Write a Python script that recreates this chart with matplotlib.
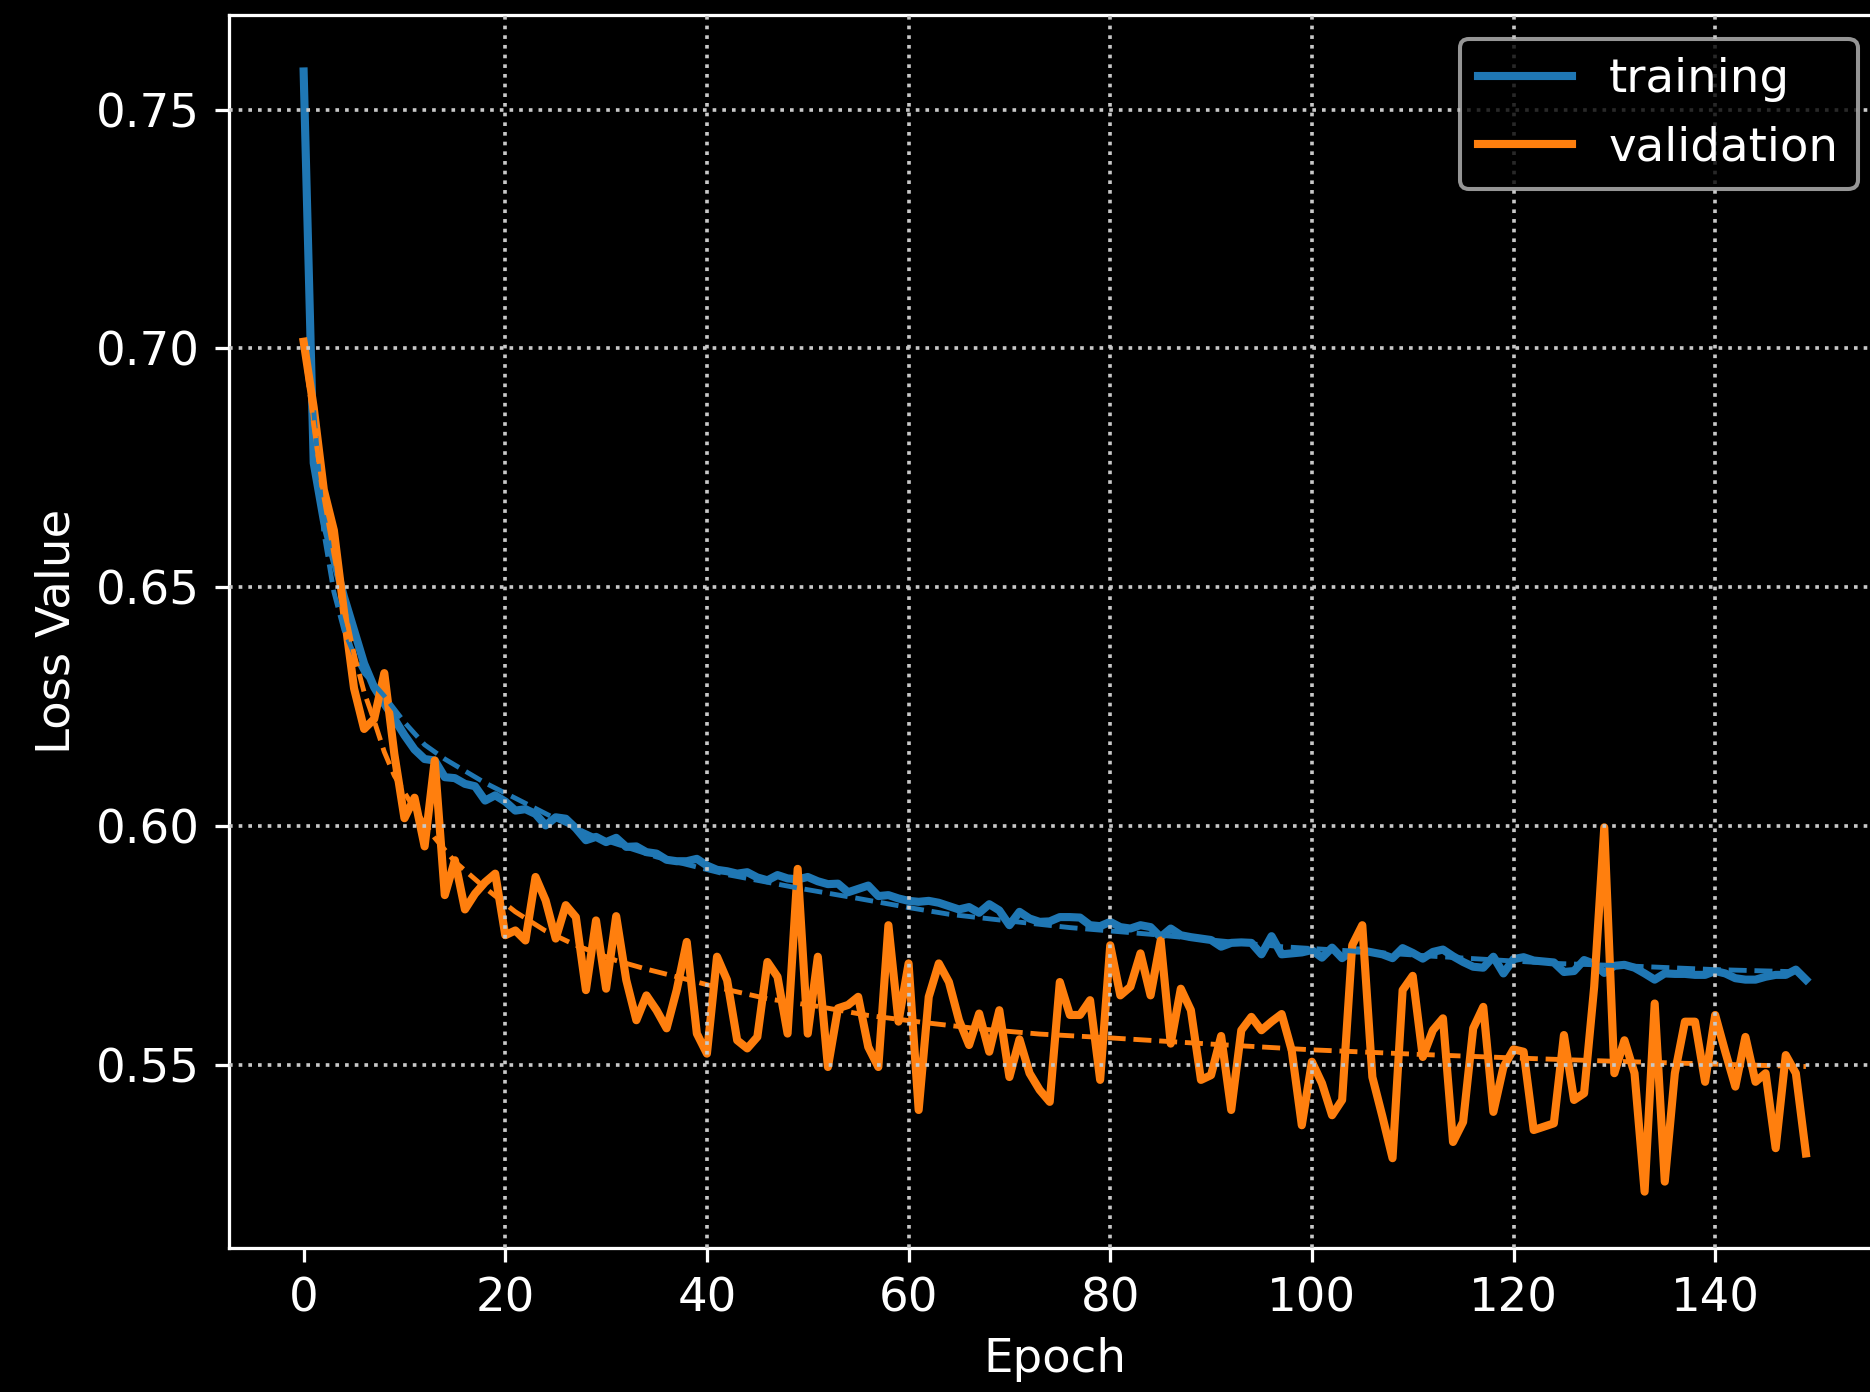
import matplotlib
matplotlib.use("Agg")
import matplotlib.pyplot as plt

# loss values
training = [
    0.758, 0.676, 0.664, 0.656, 0.648, 0.641, 0.634, 0.629, 0.6256, 0.6224,
    0.6190, 0.6160, 0.6140, 0.6137, 0.6102, 0.6100, 0.6088, 0.6083, 0.6053, 0.6064,
    0.6051, 0.6032, 0.6035, 0.6025, 0.6001, 0.6018, 0.6015, 0.5995, 0.5970, 0.5977,
    0.5966, 0.5975, 0.5956, 0.5957, 0.5945, 0.5942, 0.5929, 0.5926, 0.5926, 0.5931,
    0.5917, 0.5908, 0.5905, 0.5900, 0.5903, 0.5892, 0.5886, 0.5897, 0.5890, 0.5888,
    0.5893, 0.5884, 0.5878, 0.5879, 0.5861, 0.5868, 0.5875, 0.5853, 0.5855, 0.5848,
    0.5843, 0.5841, 0.5843, 0.5839, 0.5832, 0.5825, 0.5830, 0.5818, 0.5836, 0.5823,
    0.5792, 0.5820, 0.5806, 0.5799, 0.5800, 0.5809, 0.5809, 0.5808, 0.5792, 0.5790,
    0.5799, 0.5788, 0.5785, 0.5792, 0.5788, 0.5767, 0.5785, 0.5771, 0.5767, 0.5764,
    0.5761, 0.5747, 0.5755, 0.5756, 0.5755, 0.5731, 0.5769, 0.5731, 0.5733, 0.5735,
    0.5740, 0.5724, 0.5745, 0.5723, 0.5739, 0.5739, 0.5735, 0.5731, 0.5723, 0.5744,
    0.5734, 0.5722, 0.5736, 0.5741, 0.5727, 0.5715, 0.5705, 0.5703, 0.5726, 0.5691,
    0.5721, 0.5725, 0.5718, 0.5716, 0.5714, 0.5694, 0.5696, 0.5719, 0.5711, 0.5692,
    0.5707, 0.5709, 0.5703, 0.5691, 0.5678, 0.5691, 0.5690, 0.5690, 0.5688, 0.5688,
    0.5696, 0.5691, 0.5681, 0.5678, 0.5678, 0.5684, 0.5688, 0.5688, 0.5699, 0.5678,
]
validation = [
    0.7014, 0.6876, 0.6704, 0.6619, 0.6449, 0.6288, 0.6203, 0.6224, 0.6320, 0.6150,
    0.6016, 0.6059, 0.5957, 0.6137, 0.5855, 0.5928, 0.5825, 0.5858, 0.5882, 0.5900,
    0.5771, 0.5781, 0.5760, 0.5893, 0.5844, 0.5764, 0.5834, 0.5809, 0.5656, 0.5802,
    0.5659, 0.5811, 0.5677, 0.5593, 0.5645, 0.5614, 0.5576, 0.5656, 0.5757, 0.5565,
    0.5523, 0.5726, 0.5677, 0.5551, 0.5534, 0.5558, 0.5715, 0.5684, 0.5565, 0.5910,
    0.5565, 0.5726, 0.5495, 0.5618, 0.5625, 0.5642, 0.5537, 0.5495, 0.5792, 0.5590,
    0.5712, 0.5405, 0.5642, 0.5712, 0.5673, 0.5593, 0.5541, 0.5607, 0.5527, 0.5614,
    0.5474, 0.5553, 0.5482, 0.5447, 0.5422, 0.5673, 0.5604, 0.5604, 0.5635, 0.5468,
    0.5750, 0.5645, 0.5663, 0.5733, 0.5645, 0.5760, 0.5544, 0.5659, 0.5614, 0.5468,
    0.5478, 0.5560, 0.5405, 0.5572, 0.5600, 0.5572, 0.5590, 0.5606, 0.5530, 0.5373,
    0.5506, 0.5461, 0.5394, 0.5426, 0.5750, 0.5792, 0.5474, 0.5391, 0.5304, 0.5656,
    0.5686, 0.5516, 0.5572, 0.5597, 0.5338, 0.5380, 0.5576, 0.5621, 0.5401, 0.5495,
    0.5532, 0.5527, 0.5363, 0.5370, 0.5377, 0.5562, 0.5426, 0.5440, 0.5663, 0.5997,
    0.5482, 0.5551, 0.5482, 0.5234, 0.5628, 0.5255, 0.5482, 0.5590, 0.5590, 0.5464,
    0.5604, 0.5527, 0.5454, 0.5558, 0.5464, 0.5482, 0.5325, 0.5520, 0.5482, 0.5314,
]
epochs = list(range(len(training)))

# dashed trend curves (read at selected epochs)
train_trend_x = [1, 2, 3, 4, 5, 6, 8, 10, 12, 14, 16, 18, 21, 25, 29, 35, 42, 49,
                 55, 60, 64, 69, 76, 84, 97, 104, 112, 124, 131, 140, 149]
train_trend_y = [0.687, 0.6615, 0.649, 0.641, 0.636, 0.632, 0.6272, 0.6217, 0.617,
                 0.614, 0.6115, 0.609, 0.6058, 0.6015, 0.5976, 0.5935, 0.5898, 0.5870,
                 0.5848, 0.5829, 0.5815, 0.5803, 0.5787, 0.5773, 0.5747, 0.5738,
                 0.5727, 0.5712, 0.5707, 0.5699, 0.5694]
val_trend_x = [0, 1, 2, 3, 4, 5, 6, 7, 8, 9, 11, 13, 15, 18, 21, 24, 27, 31, 34, 37,
               41, 46, 51, 56, 62, 67, 73, 80, 90, 100, 110, 120, 130, 140, 149]
val_trend_y = [0.701, 0.684, 0.669, 0.657, 0.646, 0.636, 0.628, 0.622, 0.6155, 0.6105,
               0.6035, 0.5975, 0.5925, 0.587, 0.582, 0.578, 0.575, 0.5718, 0.570,
               0.5684, 0.5662, 0.5638, 0.5622, 0.5603, 0.5587, 0.5575, 0.5564, 0.5556,
               0.5543, 0.5531, 0.5522, 0.5514, 0.5507, 0.5501, 0.5496]

plt.style.use("dark_background")
plt.rcParams["font.family"] = ["DejaVu Sans"]
plt.rcParams["font.size"] = 11.5

fig = plt.figure(figsize=(1870 / 292, 1392 / 292), dpi=292)
ax = fig.add_axes([0.1222, 0.1037, 0.8837, 0.8852])

ax.plot(epochs, training, color="#1f77b4", linewidth=2.0, label="training")
ax.plot(epochs, validation, color="#ff7f0e", linewidth=2.0, label="validation")
ax.plot(train_trend_x, train_trend_y, color="#1f77b4", linewidth=1.2, linestyle="--")
ax.plot(val_trend_x, val_trend_y, color="#ff7f0e", linewidth=1.2, linestyle="--")

ax.set_xlabel("Epoch")
ax.set_ylabel("Loss Value")
ax.set_xticks([0, 20, 40, 60, 80, 100, 120, 140])
ax.set_yticks([0.55, 0.60, 0.65, 0.70, 0.75])
ax.grid(True, linestyle=":", color="#c8c8c8", linewidth=0.9)
ax.set_axisbelow(False)
# the reference has no vertical grid line at epoch 0
ax.get_xgridlines()[0].set_visible(False)
leg = ax.legend(loc="upper right", framealpha=0.8)
leg.get_frame().set_edgecolor("#bbbbbb")

fig.savefig("out.png", dpi=292)
